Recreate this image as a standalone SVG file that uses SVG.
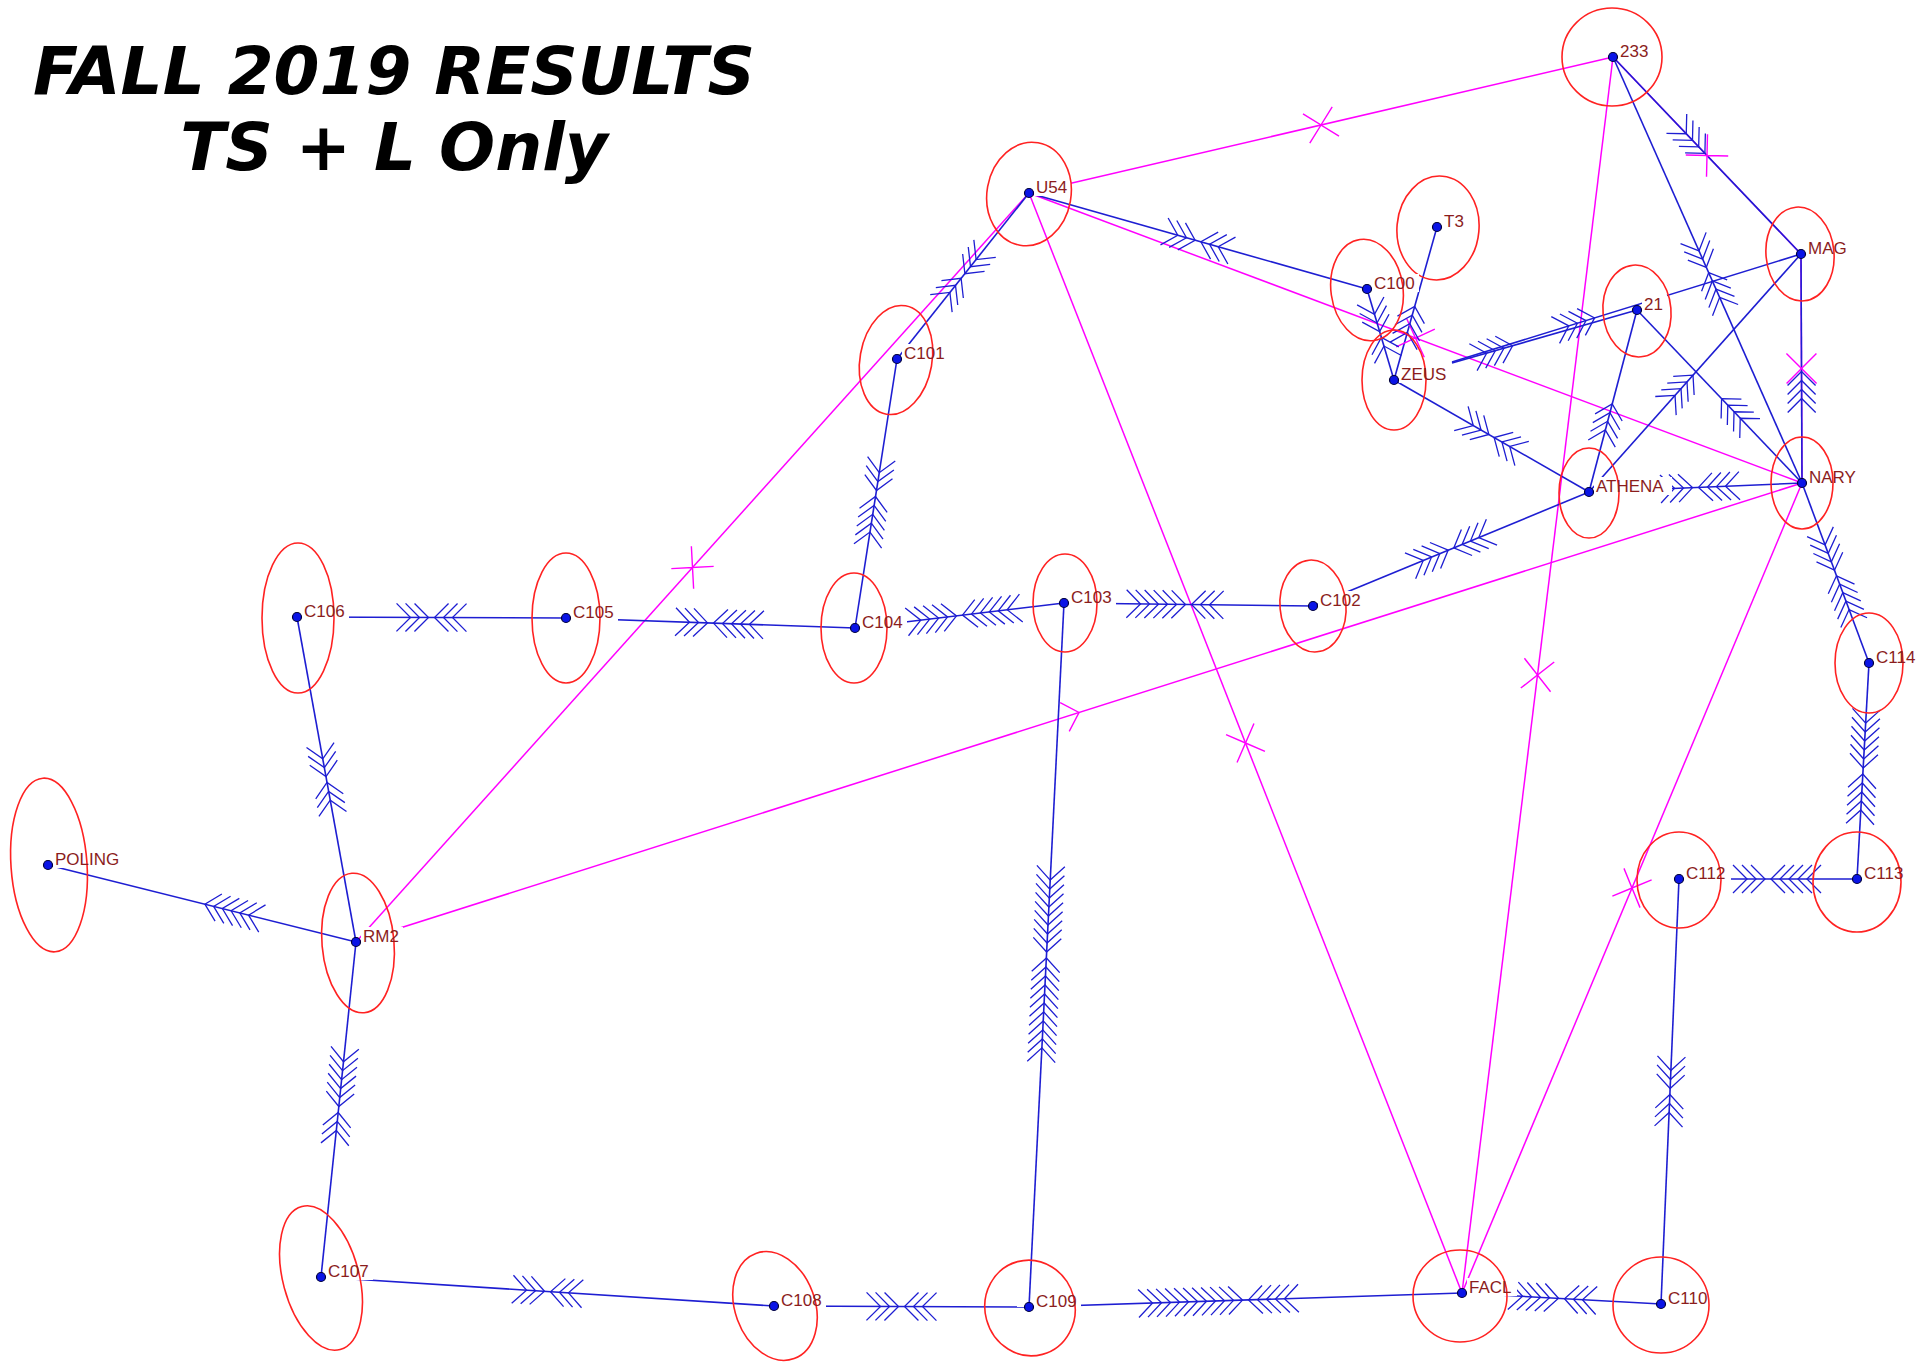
<svg xmlns="http://www.w3.org/2000/svg" xmlns:xlink="http://www.w3.org/1999/xlink" width="1926" height="1369" viewBox="0 0 1926 1369">
<style>
.title{font-family:"DejaVu Sans",Verdana,sans-serif;font-weight:bold;font-style:italic;font-size:66px;fill:#000}
.e{stroke:#1e1ed2;stroke-width:1.6;fill:none}
.m{stroke:#ff00ff;stroke-width:1.5;fill:none}
.cb{stroke:#1e1ed2;stroke-width:1.3;fill:none}
.cm{stroke:#ff00ff;stroke-width:1.4;fill:none}
.ring{stroke:#ff2222;stroke-width:1.6;fill:none}
.lbl{font-family:"Liberation Sans",Arial,sans-serif;font-size:17px;fill:#8b1d1d}
.bg{fill:#fff}
.dot{fill:#0a14e6;stroke:#00003a;stroke-width:1.2}
</style>
<defs>
<path id="v2" d="M-14-14L0 0L-14 14M-23-14L-9 0L-23 14"/>
<path id="v3" d="M-14-14L0 0L-14 14M-23-14L-9 0L-23 14M-32-14L-18 0L-32 14"/>
<path id="v4" d="M-14-14L0 0L-14 14M-23-14L-9 0L-23 14M-32-14L-18 0L-32 14M-41-14L-27 0L-41 14"/>
<path id="v5" d="M-14-14L0 0L-14 14M-23-14L-9 0L-23 14M-32-14L-18 0L-32 14M-41-14L-27 0L-41 14M-50-14L-36 0L-50 14"/>
<path id="v6" d="M-14-14L0 0L-14 14M-23-14L-9 0L-23 14M-32-14L-18 0L-32 14M-41-14L-27 0L-41 14M-50-14L-36 0L-50 14M-59-14L-45 0L-59 14"/>
<path id="v9" d="M-14-14L0 0L-14 14M-23-14L-9 0L-23 14M-32-14L-18 0L-32 14M-41-14L-27 0L-41 14M-50-14L-36 0L-50 14M-59-14L-45 0L-59 14M-68-14L-54 0L-68 14M-77-14L-63 0L-77 14M-86-14L-72 0L-86 14"/>
<path id="v11" d="M-14-14L0 0L-14 14M-23-14L-9 0L-23 14M-32-14L-18 0L-32 14M-41-14L-27 0L-41 14M-50-14L-36 0L-50 14M-59-14L-45 0L-59 14M-68-14L-54 0L-68 14M-77-14L-63 0L-77 14M-86-14L-72 0L-86 14M-95-14L-81 0L-95 14M-104-14L-90 0L-104 14"/>
<path id="x" d="M-15-15L0 0L-15 15M15-15L0 0L15 15"/>
<path id="h" d="M-15-15L0 0L-15 15"/>
</defs>
<rect width="1926" height="1369" fill="#fff"/>
<g id="title">
<text class="title" x="394" y="94" text-anchor="middle">FALL 2019 RESULTS</text>
<text class="title" x="394" y="170" text-anchor="middle">TS + L Only</text>
</g>
<g id="connectors">
<g id="magenta-lines">
<path class="m" d="M1029 193L1613 57"/>
<path class="m" d="M1029 193L1802 483"/>
<path class="m" d="M1029 193L1462 1293"/>
<path class="m" d="M356 942L1029 193"/>
<path class="m" d="M356 942L1802 483"/>
<path class="m" d="M1613 57L1462 1293"/>
<path class="m" d="M1802 483L1462 1293"/>
<path class="m" d="M1613 57L1801 254"/>
<path class="m" d="M1801 254L1802 483"/>
</g>
<g id="blue-lines">
<path class="e" d="M1029 193L1367 289"/>
<path class="e" d="M1029 193L897 359"/>
<path class="e" d="M897 359L855 628"/>
<path class="e" d="M566 618L855 628"/>
<path class="e" d="M297 617L566 618"/>
<path class="e" d="M855 628L1064 603"/>
<path class="e" d="M1064 603L1313 606"/>
<path class="e" d="M1313 606L1589 492"/>
<path class="e" d="M1064 603L1029 1307"/>
<path class="e" d="M297 617L356 942"/>
<path class="e" d="M48 865L356 942"/>
<path class="e" d="M356 942L321 1277"/>
<path class="e" d="M321 1277L774 1306"/>
<path class="e" d="M774 1306L1029 1307"/>
<path class="e" d="M1029 1307L1462 1293"/>
<path class="e" d="M1462 1293L1661 1304"/>
<path class="e" d="M1679 879L1661 1304"/>
<path class="e" d="M1679 879L1857 879"/>
<path class="e" d="M1869 663L1857 879"/>
<path class="e" d="M1802 483L1869 663"/>
<path class="e" d="M1589 492L1802 483"/>
<path class="e" d="M1801 254L1802 483"/>
<path class="e" d="M1613 57L1802 483"/>
<path class="e" d="M1613 57L1801 254"/>
<path class="e" d="M1452 363L1637 310"/>
<path class="e" d="M1452 362L1801 254"/>
<path class="e" d="M1637 310L1589 492"/>
<path class="e" d="M1637 310L1802 483"/>
<path class="e" d="M1589 492L1801 254"/>
<path class="e" d="M1394 380L1589 492"/>
<path class="e" d="M1367 289L1394 380"/>
<path class="e" d="M1437 227L1394 380"/>
</g>
<g id="magenta-marks" class="cm">
<use href="#x" transform="translate(1321 125) rotate(-13.11)"/>
<use href="#x" transform="translate(1415.5 338) rotate(20.56)"/>
<use href="#x" transform="translate(1245.5 743) rotate(68.51)"/>
<use href="#x" transform="translate(692.5 567.5) rotate(-48.06)"/>
<use href="#h" transform="translate(1079 712.5) rotate(-17.61)"/>
<use href="#x" transform="translate(1537.5 675) rotate(96.97)"/>
<use href="#x" transform="translate(1632 888) rotate(112.77)"/>
<use href="#x" transform="translate(1707 155.5) rotate(46.34)"/>
<use href="#x" transform="translate(1801.5 368.5) rotate(89.75)"/>
</g>
<g id="blue-chevrons" class="cb">
<use href="#v3" transform="translate(1195.1 240.2) rotate(15.86)"/>
<use href="#v3" transform="translate(1200.9 241.8) rotate(195.86)"/>
<use href="#v3" transform="translate(964.9 273.7) rotate(128.5)"/>
<use href="#v3" transform="translate(961.1 278.3) rotate(-51.5)"/>
<use href="#v3" transform="translate(876.5 490.5) rotate(98.87)"/>
<use href="#v5" transform="translate(875.5 496.5) rotate(-81.13)"/>
<use href="#v3" transform="translate(707.5 622.9) rotate(1.98)"/>
<use href="#v5" transform="translate(713.5 623.1) rotate(181.98)"/>
<use href="#v3" transform="translate(428.5 617.5) rotate(0.21)"/>
<use href="#v3" transform="translate(434.5 617.5) rotate(180.21)"/>
<use href="#v5" transform="translate(956.5 615.9) rotate(-6.82)"/>
<use href="#v6" transform="translate(962.5 615.1) rotate(173.18)"/>
<use href="#v6" transform="translate(1185.5 604.5) rotate(0.69)"/>
<use href="#v3" transform="translate(1191.5 604.5) rotate(180.69)"/>
<use href="#v4" transform="translate(1448.2 550.1) rotate(-22.44)"/>
<use href="#v4" transform="translate(1453.8 547.9) rotate(157.56)"/>
<use href="#v9" transform="translate(1046.6 952) rotate(92.85)"/>
<use href="#v11" transform="translate(1046.4 958) rotate(-87.15)"/>
<use href="#v3" transform="translate(326 776.5) rotate(79.71)"/>
<use href="#v3" transform="translate(327 782.5) rotate(-100.29)"/>
<use href="#v6" transform="translate(204.9 904.2) rotate(194.04)"/>
<use href="#v6" transform="translate(338.8 1106.5) rotate(95.96)"/>
<use href="#v3" transform="translate(338.2 1112.5) rotate(-84.04)"/>
<use href="#v3" transform="translate(544.5 1291.3) rotate(3.66)"/>
<use href="#v3" transform="translate(550.5 1291.7) rotate(183.66)"/>
<use href="#v3" transform="translate(898.5 1306.5) rotate(0.22)"/>
<use href="#v3" transform="translate(904.5 1306.5) rotate(180.22)"/>
<use href="#v11" transform="translate(1242.5 1300.1) rotate(-1.85)"/>
<use href="#v5" transform="translate(1248.5 1299.9) rotate(178.15)"/>
<use href="#v5" transform="translate(1558.5 1298.3) rotate(3.16)"/>
<use href="#v3" transform="translate(1564.5 1298.7) rotate(183.16)"/>
<use href="#v3" transform="translate(1670.1 1088.5) rotate(92.43)"/>
<use href="#v3" transform="translate(1669.9 1094.5) rotate(-87.57)"/>
<use href="#v3" transform="translate(1765 879) rotate(0)"/>
<use href="#v5" transform="translate(1771 879) rotate(180)"/>
<use href="#v6" transform="translate(1863.2 768) rotate(93.18)"/>
<use href="#v5" transform="translate(1862.8 774) rotate(-86.82)"/>
<use href="#v4" transform="translate(1834.5 570.2) rotate(69.59)"/>
<use href="#v5" transform="translate(1836.5 575.8) rotate(-110.41)"/>
<use href="#v3" transform="translate(1692.5 487.6) rotate(-2.42)"/>
<use href="#v4" transform="translate(1698.5 487.4) rotate(177.58)"/>
<use href="#v4" transform="translate(1801.5 371.5) rotate(-90.25)"/>
<use href="#v3" transform="translate(1706.3 267.3) rotate(66.08)"/>
<use href="#v4" transform="translate(1708.7 272.7) rotate(-113.92)"/>
<use href="#v4" transform="translate(1704.9 153.3) rotate(46.34)"/>
<use href="#v4" transform="translate(1512.6 345.8) rotate(-16.07)"/>
<use href="#v4" transform="translate(1594.6 317.9) rotate(-17.2)"/>
<use href="#v4" transform="translate(1612.2 403.9) rotate(-75.23)"/>
<use href="#v4" transform="translate(1721.6 398.7) rotate(-133.64)"/>
<use href="#v4" transform="translate(1693 375.2) rotate(-48.3)"/>
<use href="#v3" transform="translate(1488.9 434.5) rotate(29.87)"/>
<use href="#v3" transform="translate(1494.1 437.5) rotate(-150.13)"/>
<use href="#v3" transform="translate(1379.6 331.6) rotate(73.47)"/>
<use href="#v2" transform="translate(1381.4 337.4) rotate(-106.53)"/>
<use href="#v4" transform="translate(1414.7 306.4) rotate(-74.3)"/>
</g>
</g>
<g id="node-233"><rect class="bg" x="1618" y="42" width="34" height="18"/><ellipse class="ring" cx="1612" cy="57" rx="50" ry="49"/><circle class="dot" cx="1613" cy="57" r="4.5"/><text class="lbl" x="1620" y="57">233</text></g>
<g id="node-U54"><rect class="bg" x="1034" y="178" width="37" height="18"/><ellipse class="ring" cx="1029" cy="194" rx="42" ry="52" transform="rotate(10 1029 194)"/><circle class="dot" cx="1029" cy="193" r="4.5"/><text class="lbl" x="1036" y="193">U54</text></g>
<g id="node-T3"><rect class="bg" x="1442" y="212" width="26" height="18"/><ellipse class="ring" cx="1438" cy="228" rx="41" ry="52" transform="rotate(5 1438 228)"/><circle class="dot" cx="1437" cy="227" r="4.5"/><text class="lbl" x="1444" y="227">T3</text></g>
<g id="node-C100"><rect class="bg" x="1372" y="274" width="47" height="18"/><ellipse class="ring" cx="1367" cy="290" rx="36" ry="51" transform="rotate(-8 1367 290)"/><circle class="dot" cx="1367" cy="289" r="4.5"/><text class="lbl" x="1374" y="289">C100</text></g>
<g id="node-MAG"><rect class="bg" x="1806" y="239" width="45" height="18"/><ellipse class="ring" cx="1800" cy="254" rx="34" ry="47" transform="rotate(-5 1800 254)"/><circle class="dot" cx="1801" cy="254" r="4.5"/><text class="lbl" x="1808" y="254">MAG</text></g>
<g id="node-21"><rect class="bg" x="1642" y="295" width="25" height="18"/><ellipse class="ring" cx="1637" cy="311" rx="34" ry="46" transform="rotate(-5 1637 311)"/><circle class="dot" cx="1637" cy="310" r="4.5"/><text class="lbl" x="1644" y="310">21</text></g>
<g id="node-ZEUS"><rect class="bg" x="1399" y="365" width="53" height="18"/><ellipse class="ring" cx="1394" cy="380" rx="32" ry="50"/><circle class="dot" cx="1394" cy="380" r="4.5"/><text class="lbl" x="1401" y="380">ZEUS</text></g>
<g id="node-ATHENA"><rect class="bg" x="1594" y="477" width="78" height="18"/><ellipse class="ring" cx="1589" cy="493" rx="30" ry="45"/><circle class="dot" cx="1589" cy="492" r="4.5"/><text class="lbl" x="1596" y="492">ATHENA</text></g>
<g id="node-NARY"><rect class="bg" x="1807" y="468" width="53" height="18"/><ellipse class="ring" cx="1802" cy="483" rx="31" ry="46"/><circle class="dot" cx="1802" cy="483" r="4.5"/><text class="lbl" x="1809" y="483">NARY</text></g>
<g id="node-C101"><rect class="bg" x="902" y="344" width="47" height="18"/><ellipse class="ring" cx="896" cy="360" rx="36" ry="55" transform="rotate(10 896 360)"/><circle class="dot" cx="897" cy="359" r="4.5"/><text class="lbl" x="904" y="359">C101</text></g>
<g id="node-C104"><rect class="bg" x="860" y="613" width="47" height="18"/><ellipse class="ring" cx="854" cy="628" rx="33" ry="55"/><circle class="dot" cx="855" cy="628" r="4.5"/><text class="lbl" x="862" y="628">C104</text></g>
<g id="node-C103"><rect class="bg" x="1069" y="588" width="47" height="18"/><ellipse class="ring" cx="1065" cy="603" rx="32" ry="49"/><circle class="dot" cx="1064" cy="603" r="4.5"/><text class="lbl" x="1071" y="603">C103</text></g>
<g id="node-C102"><rect class="bg" x="1318" y="591" width="47" height="18"/><ellipse class="ring" cx="1313" cy="606" rx="33" ry="46" transform="rotate(-5 1313 606)"/><circle class="dot" cx="1313" cy="606" r="4.5"/><text class="lbl" x="1320" y="606">C102</text></g>
<g id="node-C106"><rect class="bg" x="302" y="602" width="47" height="18"/><ellipse class="ring" cx="298" cy="618" rx="36" ry="75"/><circle class="dot" cx="297" cy="617" r="4.5"/><text class="lbl" x="304" y="617">C106</text></g>
<g id="node-C105"><rect class="bg" x="571" y="603" width="47" height="18"/><ellipse class="ring" cx="566" cy="618" rx="34" ry="65"/><circle class="dot" cx="566" cy="618" r="4.5"/><text class="lbl" x="573" y="618">C105</text></g>
<g id="node-C114"><rect class="bg" x="1874" y="648" width="47" height="18"/><ellipse class="ring" cx="1869" cy="663" rx="34" ry="50"/><circle class="dot" cx="1869" cy="663" r="4.5"/><text class="lbl" x="1876" y="663">C114</text></g>
<g id="node-POLING"><rect class="bg" x="53" y="850" width="71" height="18"/><ellipse class="ring" cx="49" cy="865" rx="38" ry="87" transform="rotate(-4 49 865)"/><circle class="dot" cx="48" cy="865" r="4.5"/><text class="lbl" x="55" y="865">POLING</text></g>
<g id="node-RM2"><rect class="bg" x="361" y="927" width="42" height="18"/><ellipse class="ring" cx="358" cy="943" rx="36" ry="70" transform="rotate(-5 358 943)"/><circle class="dot" cx="356" cy="942" r="4.5"/><text class="lbl" x="363" y="942">RM2</text></g>
<g id="node-C112"><rect class="bg" x="1684" y="864" width="47" height="18"/><ellipse class="ring" cx="1679" cy="880" rx="42" ry="48"/><circle class="dot" cx="1679" cy="879" r="4.5"/><text class="lbl" x="1686" y="879">C112</text></g>
<g id="node-C113"><rect class="bg" x="1862" y="864" width="47" height="18"/><ellipse class="ring" cx="1857" cy="882" rx="44" ry="50"/><circle class="dot" cx="1857" cy="879" r="4.5"/><text class="lbl" x="1864" y="879">C113</text></g>
<g id="node-C107"><rect class="bg" x="326" y="1262" width="47" height="18"/><ellipse class="ring" cx="321" cy="1278" rx="38" ry="74" transform="rotate(-15 321 1278)"/><circle class="dot" cx="321" cy="1277" r="4.5"/><text class="lbl" x="328" y="1277">C107</text></g>
<g id="node-C108"><rect class="bg" x="779" y="1291" width="47" height="18"/><ellipse class="ring" cx="775" cy="1306" rx="40" ry="56" transform="rotate(-20 775 1306)"/><circle class="dot" cx="774" cy="1306" r="4.5"/><text class="lbl" x="781" y="1306">C108</text></g>
<g id="node-C109"><rect class="bg" x="1034" y="1292" width="47" height="18"/><ellipse class="ring" cx="1030" cy="1308" rx="45" ry="48" transform="rotate(-15 1030 1308)"/><circle class="dot" cx="1029" cy="1307" r="4.5"/><text class="lbl" x="1036" y="1307">C109</text></g>
<g id="node-FACL"><rect class="bg" x="1467" y="1278" width="50" height="18"/><ellipse class="ring" cx="1460" cy="1296" rx="47" ry="46"/><circle class="dot" cx="1462" cy="1293" r="4.5"/><text class="lbl" x="1469" y="1293">FACL</text></g>
<g id="node-C110"><rect class="bg" x="1666" y="1289" width="47" height="18"/><ellipse class="ring" cx="1661" cy="1305" rx="48" ry="48"/><circle class="dot" cx="1661" cy="1304" r="4.5"/><text class="lbl" x="1668" y="1304">C110</text></g>
</svg>
